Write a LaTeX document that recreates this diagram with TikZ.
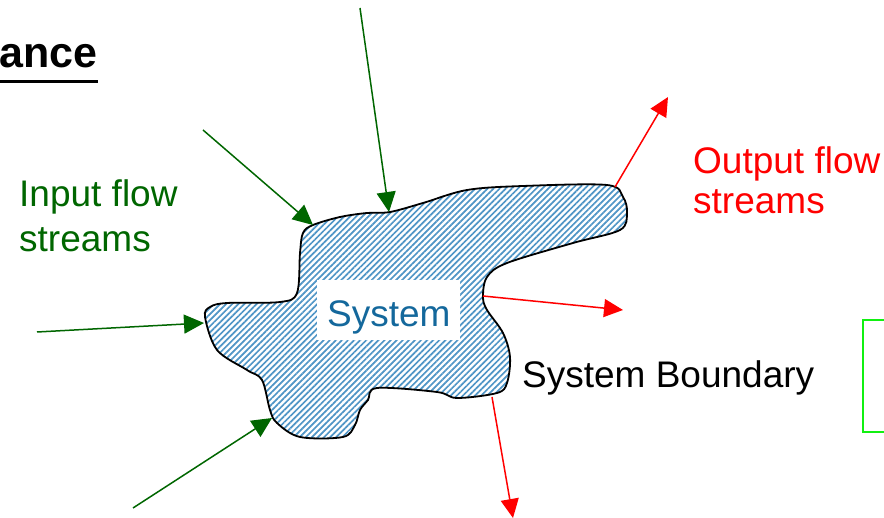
\documentclass[tikz,border=0pt]{standalone}
\usepackage{fontspec}
\setmainfont{Liberation Sans}
\usetikzlibrary{arrows.meta,patterns.meta}
\definecolor{ingreen}{HTML}{006600}
\definecolor{outred}{HTML}{FF0000}
\definecolor{sysblue}{HTML}{14689C}
\definecolor{hatchblue}{HTML}{4F95C6}
\definecolor{boxgreen}{HTML}{11F011}
\tikzset{
  inflow/.style={draw=ingreen, line width=1.5pt, -{Triangle[length=20pt,width=19pt]}},
  outflow/.style={draw=outred, line width=1.5pt, -{Triangle[length=19pt,width=18pt]}},
  lbl/.style={anchor=base west, inner sep=0pt, font=\fontsize{37}{44}\selectfont},
}
\begin{document}
\begin{tikzpicture}[x=1pt,y=-1pt]
\useasboundingbox (0,0) rectangle (884,518);

% heading (underlined)
\node[anchor=base west, inner sep=0pt, font=\fontsize{43}{50}\bfseries] (head) at (-1,68) {ance};
\fill (0,80.5) rectangle (98,83.5);

% the system region
\path[draw=black, line width=1.8pt,
      pattern={Lines[angle=45,distance=4.3pt,line width=1.7pt]}, pattern color=hatchblue]
  plot[smooth cycle, tension=0.55] coordinates {
    (313,225) (340,217) (367,213) (390,212) (423,203) (467,190) (523,186)
    (607,185) (623,197) (627,213) (620,230) (573,243) (507,263) (487,277)
    (483,297) (487,310) (503,333) (510,357) (507,383) (497,393) (457,398)
    (437,392) (377,388) (368,400) (360,410) (355,425) (343,437) (300,437)
    (277,423) (270,410) (262,380) (247,370) (217,350) (205,317) (210,307)
    (227,303) (280,302) (297,293) (300,253) (303,233)};

\node[fill=white, minimum width=143pt, minimum height=60pt, inner sep=0pt] (sysbox) at (388.5,310) {};
\node[lbl, text=sysblue] (sys) at (327,327) {System};

% points on the boundary
\coordinate (bTop)   at (389,212);
\coordinate (bNW)    at (313,225);
\coordinate (bW)     at (204,323);
\coordinate (bSW)    at (272,418);
\coordinate (bNE)    at (615,187);
\coordinate (bE)     at (483,296);
\coordinate (bS)     at (492,397);

% free ends of the streams
\coordinate (iTop) at (360,8);
\coordinate (iNW)  at (203,130);
\coordinate (iW)   at (37,332);
\coordinate (iSW)  at (133,508);
\coordinate (oNE)  at (668,97);
\coordinate (oE)   at (623,310);
\coordinate (oS)   at (513,518);

\draw[inflow] (iTop) -- (bTop);
\draw[inflow] (iNW) -- (bNW);
\draw[inflow] (iW) -- (bW);
\draw[inflow] (iSW) -- (bSW);
\draw[outflow] (bNE) -- (oNE);
\draw[outflow] (bE) -- (oE);
\draw[outflow] (bS) -- (oS);

% labels
\node[lbl, text=ingreen] (in1) at (19,207) {Input flow};
\node[lbl, text=ingreen] (in2) at (19,252) {streams};
\node[lbl, text=outred] (out1) at (693,174) {Output flow};
\node[lbl, text=outred] (out2) at (693,214) {streams};
\node[lbl] (bound) at (522,388) {System Boundary};

% framed box at the right edge
\draw[boxgreen, line width=2pt] (885,320) -- (863,320) -- (863,432) -- (885,432);
\end{tikzpicture}
\end{document}
